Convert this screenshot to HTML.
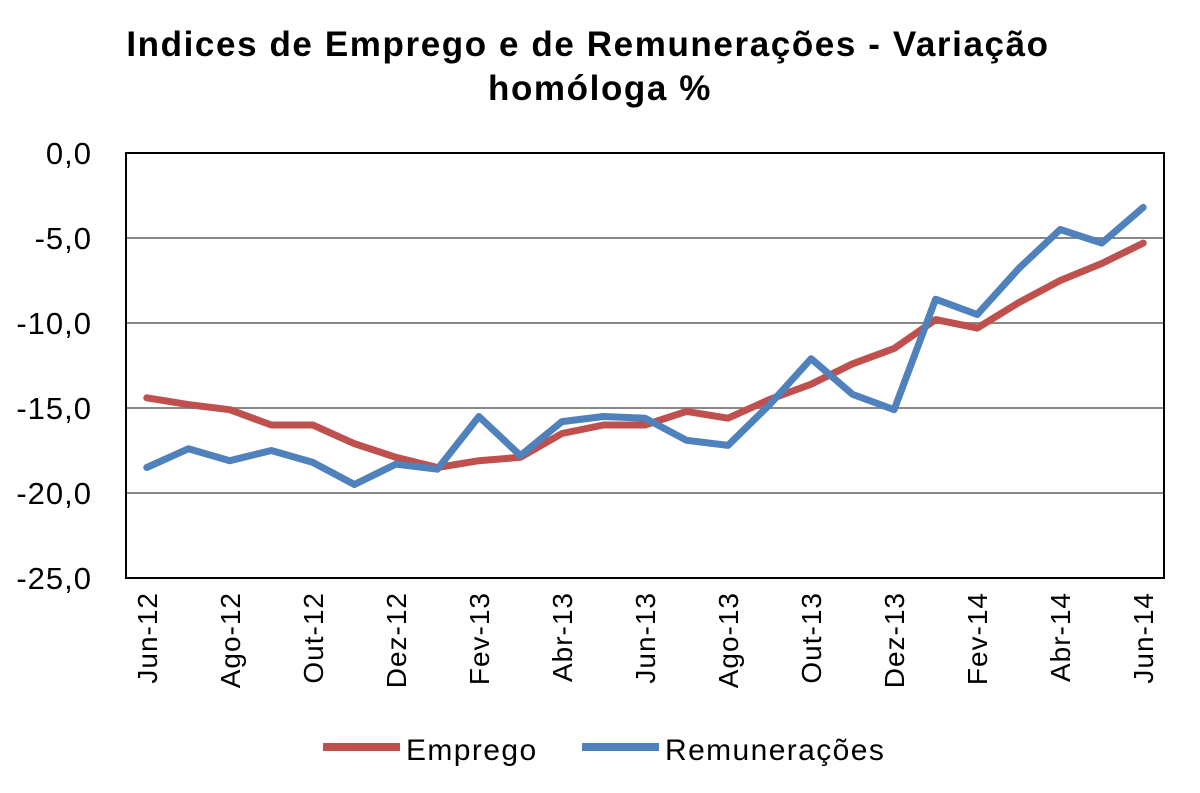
<!DOCTYPE html>
<html><head><meta charset="utf-8"><style>
html,body{margin:0;padding:0;background:#fff;}
svg{display:block;font-family:"Liberation Sans",sans-serif;}
</style></head><body>
<svg id="chart" width="1200" height="793" viewBox="0 0 1200 793">
<text x="588" y="56" text-anchor="middle" font-size="35" font-weight="bold" letter-spacing="1.6">Indices de Emprego  e de Remunerações  - Variação</text>
<text x="600" y="100" text-anchor="middle" font-size="35" font-weight="bold" letter-spacing="1.6">homóloga %</text>
<g id="grid"></g><g id="yticks"></g><g id="xticks"></g><g id="series"></g>
<rect x="126" y="153" width="1038" height="425" fill="none" stroke="#000" stroke-width="2"/>
<g>
<line x1="323" y1="747" x2="400" y2="747" stroke="#c0504d" stroke-width="8"/>
<text x="406" y="760" font-size="30" letter-spacing="1.4">Emprego</text>
<line x1="582" y1="747" x2="659" y2="747" stroke="#4f81bd" stroke-width="8"/>
<text x="665" y="760" font-size="30" letter-spacing="1.4">Remunerações</text>
</g>
</svg>
<script>
const categories=["Jun-12","Jul-12","Ago-12","Set-12","Out-12","Nov-12","Dez-12","Jan-13","Fev-13","Mar-13","Abr-13","Mai-13","Jun-13","Jul-13","Ago-13","Set-13","Out-13","Nov-13","Dez-13","Jan-14","Fev-14","Mar-14","Abr-14","Mai-14","Jun-14"];
const emprego=[-14.4,-14.8,-15.1,-16.0,-16.0,-17.1,-17.9,-18.5,-18.1,-17.9,-16.5,-16.0,-16.0,-15.2,-15.6,-14.5,-13.6,-12.4,-11.5,-9.8,-10.3,-8.8,-7.5,-6.5,-5.3];
const remuneracoes=[-18.5,-17.4,-18.1,-17.5,-18.2,-19.5,-18.3,-18.6,-15.5,-17.8,-15.8,-15.5,-15.6,-16.9,-17.2,-14.8,-12.1,-14.2,-15.1,-8.6,-9.5,-6.8,-4.5,-5.3,-3.2];
const yTicks=[0,-5,-10,-15,-20,-25];
const yTickLabels=["0,0","-5,0","-10,0","-15,0","-20,0","-25,0"];
const NS="http://www.w3.org/2000/svg";
const L=126,R=1164,T=153,B=578;
const yScale=v=>T+(0-v)/25*(B-T);
const step=(R-L)/categories.length;
const xScale=i=>L+step*(i+0.5);
function mk(tag,attrs,parent){const e=document.createElementNS(NS,tag);for(const k in attrs)e.setAttribute(k,attrs[k]);document.getElementById(parent).appendChild(e);return e;}
yTicks.forEach((v,i)=>{
  const y=yScale(v);
  if(v!==0&&v!==-25){const g=mk("line",{x1:L,x2:R,y1:y,y2:y,stroke:"#888","stroke-width":2},"grid");
  
  }
  const t=mk("text",{x:92,y:y+11,"text-anchor":"end","font-size":31,"letter-spacing":1},"yticks");
  t.textContent=yTickLabels[i];
  
  
});
categories.forEach((c,i)=>{
  if(i%2!==0)return;
  const x=xScale(i);
  const t=mk("text",{x:0,y:0,"text-anchor":"end","font-size":28,"letter-spacing":1,transform:`translate(${x+10},592) rotate(-90)`},"xticks");
  t.textContent=c;
  
  
});
function drawSeries(vals,color,name){
  const d=vals.map((v,i)=>(i?"L":"M")+xScale(i).toFixed(1)+","+yScale(v).toFixed(1)).join(" ");
  const p=mk("path",{d:d,fill:"none",stroke:color,"stroke-width":7,"stroke-linejoin":"round","stroke-linecap":"round"},"series");
  
  
}
drawSeries(emprego,"#c0504d","series-emprego");
drawSeries(remuneracoes,"#4f81bd","series-remuneracoes");
</script>
</body></html>
